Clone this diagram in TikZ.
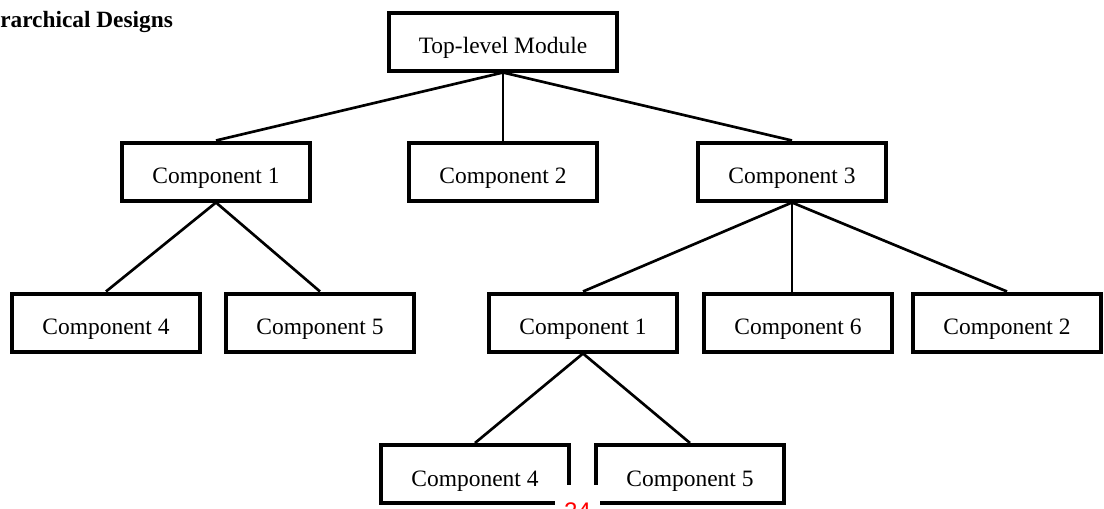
\documentclass[tikz,border=0pt]{standalone}
\usepackage{fontspec}
\setmainfont{Liberation Serif}
\newfontfamily\pagefont{Liberation Sans}
\begin{document}
\begin{tikzpicture}[x=0.75pt,y=-0.75pt,
    box/.style={draw,line width=3pt,inner xsep=22.5pt,minimum height=43.5pt,
        text height=18pt,text depth=0pt,font=\fontsize{17.6}{21}\selectfont},
    link/.style={line width=2pt},
    pagenum/.style={fill=white,text=red,inner sep=0pt,minimum width=33.75pt,
        minimum height=38.25pt,text height=12.9pt,text depth=0pt,
        font=\pagefont\fontsize{18}{21}\selectfont}]
    \useasboundingbox (0,0) rectangle (1104,508);
    \node[anchor=base west,inner sep=0pt,font=\fontsize{17.5}{21}\selectfont\bfseries] (t) at (0,27) {rarchical Designs};
    \node[box](a) at (503,41.5)  {Top-level Module};
    \node[box](b) at (216,171.5)  {Component 1};
    \node[box](c) at (503,171.5)  {Component 2};
    \node[box](d) at (792,171.5)  {Component 3};
    \node[box](e) at (106,322.5)  {Component 4};
    \node[box](f) at (320,322.5)  {Component 5};
    \node[box](g) at (583,322.5)  {Component 1};
    \node[box](h) at (798,322.5)  {Component 6};
    \node[box](k) at (1007,322.5)  {Component 2};
    \node[box](l) at (475,474)  {Component 4};
    \node[box](m) at (690,474)  {Component 5};
    \draw[link] (a.south) to (b.north);
    \draw[link] (a.south) to (c.north);
    \draw[link] (a.south) to (d.north);
    \draw[link] (b.south) to (e.north);
    \draw[link] (b.south) to (f.north);
    \draw[link] (d.south) to (g.north);
    \draw[link] (d.south) to (d.south |- h.north);
    \draw[link] (d.south) to (k.north);
    \draw[link] (g.south) to (l.north);
    \draw[link] (g.south) to (m.north);
    \node[pagenum,anchor=north](n) at (577.5,485) {24};
\end{tikzpicture}
\end{document}
